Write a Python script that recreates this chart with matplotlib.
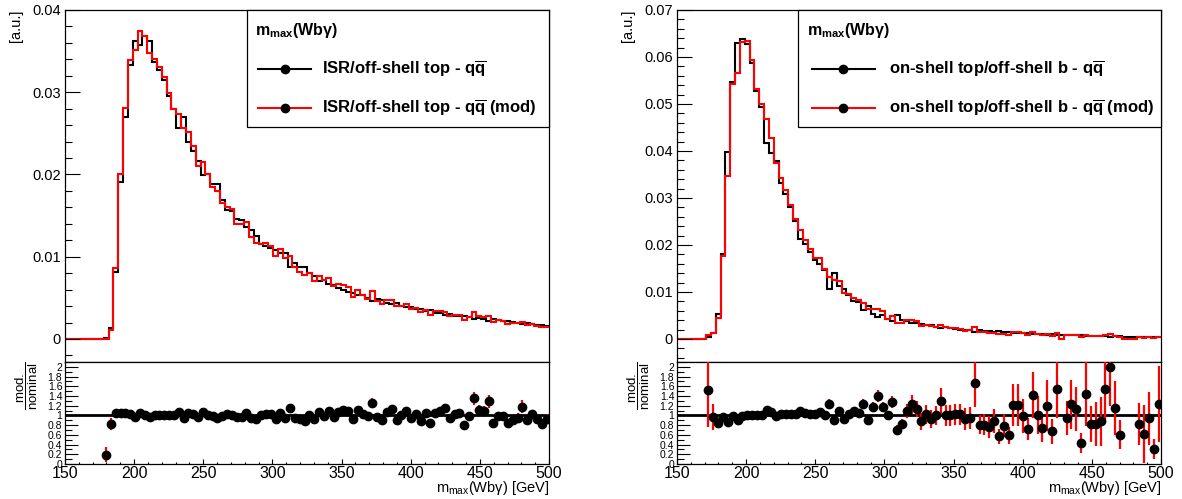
import numpy as np
import matplotlib
matplotlib.use("Agg")
import matplotlib.pyplot as plt
from matplotlib.lines import Line2D
from matplotlib.patches import Rectangle
from matplotlib.ticker import MultipleLocator, FuncFormatter

plt.rcParams['font.family'] = ['Liberation Sans', 'DejaVu Sans']
plt.rcParams['mathtext.fontset'] = 'custom'
plt.rcParams['mathtext.rm'] = 'Liberation Sans'
plt.rcParams['mathtext.it'] = 'Liberation Sans:italic'
plt.rcParams['mathtext.bf'] = 'Liberation Sans:bold'

# ---------------------------------------------------------------- binning
x_min, x_max, n_bins = 150.0, 500.0, 100
nan = np.nan

# ---------------------------------------------------------------- ISR / off-shell top  (units of 1e-3)
isr_nominal = [
    0, 0, 0, 0, 0, 0, 0, 0, 0.15, 1.38,
    8.2, 19.1, 27.0, 33.3, 36.2, 35.7, 36.8, 36.2, 33.7, 32.7,
    31.5, 29.6, 28.0, 25.6, 27.0, 24.0, 22.8, 21.7, 19.9, 20.1,
    18.9, 18.9, 16.9, 15.7, 15.6, 14.6, 14.5, 13.6, 13.2, 12.5,
    11.6, 11.3, 11.1, 10.8, 10.4, 10.4, 8.8, 9.2, 8.8, 8.8,
    8.0, 7.6, 7.1, 7.2, 6.7, 6.6, 6.2, 5.9, 5.7, 5.6,
    5.3, 5.3, 5.0, 4.6, 4.8, 4.7, 4.4, 4.2, 4.4, 4.0,
    3.9, 3.9, 3.7, 3.7, 3.4, 3.5, 3.2, 3.1, 2.9, 3.0,
    2.8, 2.8, 2.8, 2.7, 2.4, 2.5, 2.4, 2.2, 2.4, 2.3,
    2.2, 2.2, 2.1, 2.0, 1.8, 1.9, 1.8, 1.7, 1.7, 1.6,
]
isr_ratio = [
    nan, nan, nan, nan, nan, nan, nan, nan, 0.19, 0.82,
    1.05, 1.05, 1.04, 1.02, 0.97, 1.05, 1.00, 0.96, 1.01, 1.01,
    1.01, 1.01, 1.00, 1.07, 0.95, 1.05, 1.03, 0.97, 1.08, 1.00,
    0.98, 0.95, 0.98, 1.02, 1.01, 0.96, 0.96, 1.05, 0.94, 0.93,
    1.00, 1.03, 1.02, 0.93, 1.05, 0.95, 1.15, 0.95, 0.93, 0.88,
    1.00, 0.92, 1.08, 0.99, 1.10, 0.97, 1.07, 1.12, 1.10, 0.92,
    1.12, 1.02, 0.98, 1.26, 0.97, 0.90, 1.08, 1.13, 0.90, 1.00,
    1.10, 0.94, 1.03, 0.88, 1.05, 0.85, 1.05, 1.09, 1.15, 0.95,
    1.02, 1.04, 0.81, 0.98, 1.35, 1.12, 1.10, 1.29, 0.84, 0.98,
    0.99, 0.85, 0.90, 0.95, 1.18, 0.90, 1.02, 0.92, 0.83, 0.93,
]
isr_ratio_err = [
    nan, nan, nan, nan, nan, nan, nan, nan, 0.15, 0.12,
    0.03, 0.02, 0.02, 0.02, 0.02, 0.02, 0.02, 0.02, 0.02, 0.02,
    0.02, 0.02, 0.02, 0.03, 0.03, 0.03, 0.03, 0.03, 0.03, 0.03,
    0.03, 0.03, 0.03, 0.03, 0.03, 0.03, 0.03, 0.04, 0.04, 0.04,
    0.04, 0.04, 0.04, 0.04, 0.04, 0.04, 0.06, 0.04, 0.05, 0.05,
    0.05, 0.05, 0.06, 0.05, 0.06, 0.05, 0.06, 0.06, 0.06, 0.05,
    0.06, 0.06, 0.06, 0.10, 0.06, 0.06, 0.07, 0.07, 0.06, 0.07,
    0.07, 0.07, 0.07, 0.07, 0.07, 0.07, 0.08, 0.08, 0.09, 0.07,
    0.08, 0.08, 0.08, 0.08, 0.14, 0.09, 0.09, 0.14, 0.08, 0.09,
    0.09, 0.08, 0.09, 0.09, 0.13, 0.09, 0.10, 0.09, 0.09, 0.10,
]

# ---------------------------------------------------------------- on-shell top / off-shell b  (units of 1e-3)
onshell_nominal = [
    0, 0, 0, 0, 0, 0.1, 0.5, 1.3, 5.3, 18.1,
    39.8, 54.7, 63.0, 63.9, 62.7, 58.7, 52.7, 49.4, 41.8, 39.6,
    37.8, 33.2, 30.8, 28.0, 25.1, 21.3, 20.2, 18.5, 16.7, 16.0,
    14.7, 10.7, 14.0, 11.2, 10.6, 9.4, 8.0, 7.9, 6.2, 7.0,
    5.4, 4.6, 5.1, 4.2, 3.9, 5.0, 4.0, 3.8, 3.3, 3.4,
    3.2, 2.9, 2.9, 2.6, 2.3, 2.5, 2.3, 2.2, 2.0, 1.9,
    1.9, 1.5, 1.9, 1.8, 1.6, 1.5, 1.7, 1.4, 1.5, 1.2,
    1.2, 1.2, 1.3, 1.0, 1.1, 1.1, 0.9, 1.0, 0.8, 0.9,
    0.8, 0.75, 0.75, 0.8, 0.65, 0.7, 0.7, 0.65, 0.55, 0.5,
    0.55, 0.6, 0.5, 0.5, 0.45, 0.5, 0.45, 0.45, 0.45, 0.35,
]
onshell_ratio = [
    nan, nan, nan, nan, nan, nan, 1.52, 0.97, 0.85, 0.97,
    0.87, 0.99, 0.90, 0.99, 1.01, 1.01, 1.01, 1.01, 1.12, 1.08,
    0.99, 1.03, 1.03, 1.02, 1.02, 1.09, 1.04, 1.03, 1.03, 1.08,
    1.01, 1.24, 0.90, 1.10, 0.92, 1.02, 1.09, 1.05, 1.24, 0.90,
    1.17, 1.40, 1.17, 1.01, 1.28, 0.70, 0.83, 1.09, 1.23, 1.13,
    0.88, 1.02, 0.93, 1.00, 1.30, 1.00, 1.00, 1.02, 1.02, 0.93,
    0.95, 1.66, 0.81, 0.81, 0.76, 0.88, 0.57, 0.79, 0.59, 1.22,
    1.22, 0.99, 0.72, 1.42, 1.01, 0.74, 1.20, 0.67, 1.55, nan,
    0.95, 1.23, 1.13, 0.43, 1.44, 0.83, 0.83, 0.88, 1.55, 1.99,
    1.15, 0.60, nan, nan, nan, 0.83, 0.62, 0.94, 0.31, 1.24,
]
onshell_ratio_err = [
    nan, nan, nan, nan, nan, nan, 0.75, 0.27, 0.09, 0.04,
    0.03, 0.02, 0.02, 0.02, 0.02, 0.02, 0.02, 0.02, 0.03, 0.03,
    0.03, 0.03, 0.03, 0.03, 0.04, 0.04, 0.04, 0.04, 0.05, 0.05,
    0.05, 0.10, 0.06, 0.08, 0.06, 0.07, 0.08, 0.08, 0.10, 0.08,
    0.10, 0.12, 0.10, 0.09, 0.13, 0.10, 0.10, 0.15, 0.20, 0.17,
    0.17, 0.20, 0.19, 0.20, 0.27, 0.21, 0.21, 0.22, 0.22, 0.22,
    0.22, 0.48, 0.20, 0.22, 0.22, 0.25, 0.15, 0.23, 0.17, 0.43,
    0.43, 0.35, 0.22, 0.48, 0.40, 0.28, 0.52, 0.25, 0.60, nan,
    0.35, 0.50, 0.45, 0.20, 0.65, 0.37, 0.45, 0.50, 0.70, 0.80,
    0.55, 0.30, nan, nan, nan, 0.43, 0.60, 0.55, 0.20, 0.78,
]

panels = [
    dict(nominal=isr_nominal, ratio=isr_ratio, err=isr_ratio_err,
         name='ISR/off-shell top', ymax=0.04, ymin=-0.0028,
         x0=65, legend_left=247, line=(258, 311), marker=285, text_x=322, title_x=255),
    dict(nominal=onshell_nominal, ratio=onshell_ratio, err=onshell_ratio_err,
         name='on-shell top/off-shell b', ymax=0.07, ymin=-0.0049,
         x0=677, legend_left=798, line=(812, 875), marker=843, text_x=889, title_x=807),
]

W, H = 1182, 499
fig = plt.figure(figsize=(W / 100, H / 100), dpi=100)
fig.patch.set_facecolor('white')


def fx(x):
    return x / W


def fy(y):
    return 1 - y / H


edges = np.linspace(x_min, x_max, n_bins + 1)
centers = 0.5 * (edges[:-1] + edges[1:])

top_y, split_y, bot_y, width = 10, 362, 464, 484


def fmt_num(v, pos):
    if abs(v) < 1e-12:
        return '0'
    return f'{v:g}'


for p in panels:
    x0 = p['x0']
    nominal = np.array(p['nominal']) * 1e-3
    ratio = np.array(p['ratio'], dtype=float)
    err = np.array(p['err'], dtype=float)
    modified = np.nan_to_num(nominal * ratio, nan=0.0)

    # upper pad: normalised distributions
    ax = fig.add_axes([fx(x0), fy(split_y), width / W, (split_y - top_y) / H])
    ax.stairs(nominal, edges, color='black', lw=1.5, baseline=None)
    ax.stairs(modified, edges, color='#ff0000', lw=1.5, baseline=None)
    ax.set_xlim(x_min, x_max)
    ax.set_ylim(p['ymin'], p['ymax'])
    ax.yaxis.set_major_locator(MultipleLocator(0.01))
    ax.yaxis.set_minor_locator(MultipleLocator(0.002))
    ax.yaxis.set_major_formatter(FuncFormatter(fmt_num))
    ax.tick_params(axis='y', which='major', direction='in', length=10.5, width=0.8,
                   labelsize=10.5, pad=3, right=False)
    ax.tick_params(axis='y', which='minor', direction='in', length=5, width=0.8, right=False)
    ax.tick_params(axis='x', which='both', bottom=False, top=False, labelbottom=False)
    for s in ax.spines.values():
        s.set_linewidth(0.9)

    # lower pad: ratio
    rax = fig.add_axes([fx(x0), fy(bot_y), width / W, (bot_y - split_y) / H])
    rax.axhline(1.0, color='black', lw=2.0, zorder=2)
    ok = ~np.isnan(ratio)
    rax.errorbar(centers[ok], ratio[ok], yerr=err[ok], fmt='o', color='black',
                 ms=6, ecolor='#ff0000', elinewidth=1.6, capsize=0, zorder=3)
    rax.set_xlim(x_min, x_max)
    rax.set_ylim(0, 2.1)
    rax.yaxis.set_major_locator(MultipleLocator(0.2))
    rax.yaxis.set_minor_locator(MultipleLocator(0.1))
    rax.yaxis.set_major_formatter(FuncFormatter(fmt_num))
    rax.xaxis.set_major_locator(MultipleLocator(50))
    rax.xaxis.set_minor_locator(MultipleLocator(10))
    rax.tick_params(axis='y', which='major', direction='in', length=9, width=0.8,
                    labelsize=7.5, pad=2)
    rax.tick_params(axis='y', which='minor', direction='in', length=5, width=0.8)
    rax.tick_params(axis='x', which='major', direction='in', length=3.5, width=0.8,
                    labelsize=11.5, pad=1.5)
    rax.tick_params(axis='x', which='minor', direction='in', length=1.8, width=0.8)
    for s in rax.spines.values():
        s.set_linewidth(0.9)

    # axis titles
    fig.text(fx(x0 - 49), fy(top_y), '[a.u.]', rotation=90, ha='center', va='top', fontsize=10.5)
    fig.text(fx(x0 - 38), fy(split_y), r'$\dfrac{\mathrm{mod.}}{\mathrm{nominal}}$',
             rotation=90, ha='center', va='top', fontsize=9.5)
    fig.text(fx(x0 + width), fy(497), r'm$_{\mathrm{max}}$(Wbγ) [GeV]',
             ha='right', va='bottom', fontsize=10.5)

    # legend box
    lx = p['legend_left']
    fig.patches.append(Rectangle((fx(lx), fy(127)), (x0 + width - lx) / W, 117 / H,
                                 transform=fig.transFigure, facecolor='white',
                                 edgecolor='black', lw=0.9, zorder=5))
    fig.text(fx(p['title_x']), fy(31), r'm$_{\mathbf{max}}$(Wbγ)', fontweight='bold',
             ha='left', va='center', fontsize=11.5, zorder=6)
    entries = [(69, 'black', p['name'] + r' - q$\overline{\mathbf{q}}$'),
               (108, '#ff0000', p['name'] + r' - q$\overline{\mathbf{q}}$ (mod)')]
    for yy, col, label in entries:
        fig.lines.append(Line2D([fx(p['line'][0]), fx(p['line'][1])], [fy(yy), fy(yy)],
                                transform=fig.transFigure, color=col, lw=1.5, zorder=6))
        fig.lines.append(Line2D([fx(p['marker'])], [fy(yy)], transform=fig.transFigure,
                                marker='o', ms=6, color='black', lw=0, zorder=7))
        fig.text(fx(p['text_x']), fy(yy), label, fontweight='bold', ha='left',
                 va='center', fontsize=12, zorder=6)

fig.savefig('out.png', dpi=100, facecolor='white')
